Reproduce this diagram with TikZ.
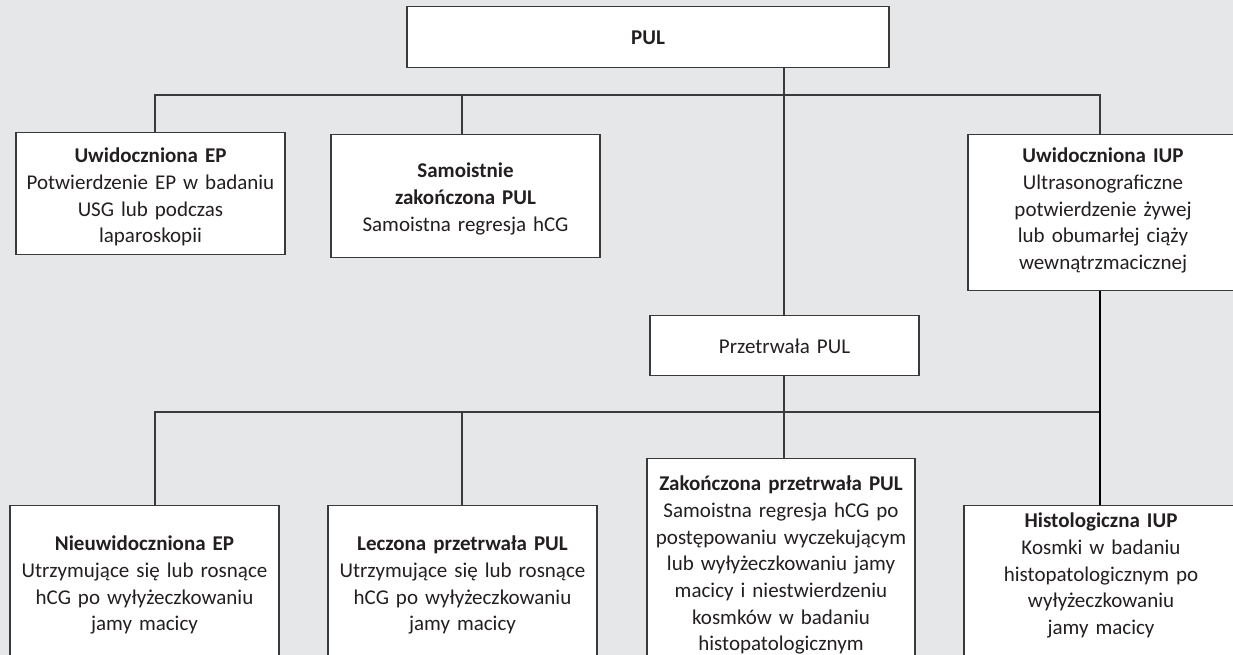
\documentclass[tikz,border=0pt]{standalone}
\usepackage{fontspec}
\setmainfont{Carlito}
\definecolor{bg}{HTML}{E6E7E8}
\definecolor{ln}{HTML}{3A3A3A}
\definecolor{tx}{HTML}{231F20}
\begin{document}
\begin{tikzpicture}[x=1pt,y=-1pt,
  box/.style={draw=ln, line width=1.3pt, fill=white, inner sep=0pt, align=center,
    anchor=north, text=tx, font=\fontsize{21}{26.7}\selectfont},
  conn/.style={draw=ln, line width=1.3pt},
  thickconn/.style={draw=black, line width=2.4pt}]
\fill[bg] (0,0) rectangle (1233,655);
\useasboundingbox (0,0) rectangle (1233,655);

% top level
\node[box, text width=482pt, text height=38pt, text depth=23pt] (pul) at (648,6) {\textbf{PUL}};

% second row
\node[box, text width=269pt, text height=30pt, text depth=92pt] (ep) at (150.5,132)
  {\textbf{Uwidoczniona EP}\\Potwierdzenie EP w badaniu\\USG lub podczas\\laparoskopii};
\node[box, text width=269pt, text height=43pt, text depth=80pt] (sam) at (465.5,134)
  {\textbf{Samoistnie}\\\textbf{zakończona PUL}\\Samoistna regresja hCG};
\node[box, text width=270pt, text height=28pt, text depth=128pt] (iup) at (1103,134)
  {\textbf{Uwidoczniona IUP}\\Ultrasonograficzne\\potwierdzenie żywej\\lub obumarłej ciąży\\wewnątrzmacicznej};

% middle
\node[box, text width=269pt, text height=38pt, text depth=22pt] (prz) at (784.5,315)
  {Przetrwała PUL};

% bottom row
\node[box, text width=269pt, text height=45pt, text depth=120pt] (nie) at (144.5,505)
  {\textbf{Nieuwidoczniona EP}\\Utrzymujące się lub rosnące\\hCG po wyłyżeczkowaniu\\jamy macicy};
\node[box, text width=269pt, text height=45pt, text depth=120pt] (lec) at (462.5,505)
  {\textbf{Leczona przetrwała PUL}\\Utrzymujące się lub rosnące\\hCG po wyłyżeczkowaniu\\jamy macicy};
\node[box, text width=268pt, text height=32pt, text depth=190pt] (zak) at (781,458)
  {\textbf{Zakończona przetrwała PUL}\\Samoistna regresja hCG po\\postępowaniu wyczekującym\\lub wyłyżeczkowaniu jamy\\macicy i niestwierdzeniu\\kosmków w badaniu\\histopatologicznym};
\node[box, text width=274pt, text height=22pt, text depth=153pt] (his) at (1101,505)
  {\textbf{Histologiczna IUP}\\Kosmki w badaniu\\histopatologicznym po\\wyłyżeczkowaniu\\jamy macicy};

% bus coordinates
\coordinate (cx) at (784,0);
\coordinate (b1L) at (155,95);
\coordinate (b1S) at (462,95);
\coordinate (b1R) at (1100,95);
\coordinate (b2L) at (155,412);
\coordinate (b2S) at (462,412);
\coordinate (b2R) at (1100,412);

% connectors
\draw[conn] (ep.north -| b1L) -- (b1L) -- (b1R) -- (iup.north -| b1R);
\draw[conn] (b1S) -- (sam.north -| b1S);
\draw[conn] (pul.south -| cx) -- (prz.north -| cx);
\draw[conn] (prz.south -| cx) -- (zak.north -| cx);
\draw[conn] (nie.north -| b2L) -- (b2L) -- (b2R);
\draw[conn] (b2S) -- (lec.north -| b2S);
\draw[thickconn] (iup.south -| b2R) -- (his.north -| b2R);
\end{tikzpicture}
\end{document}
